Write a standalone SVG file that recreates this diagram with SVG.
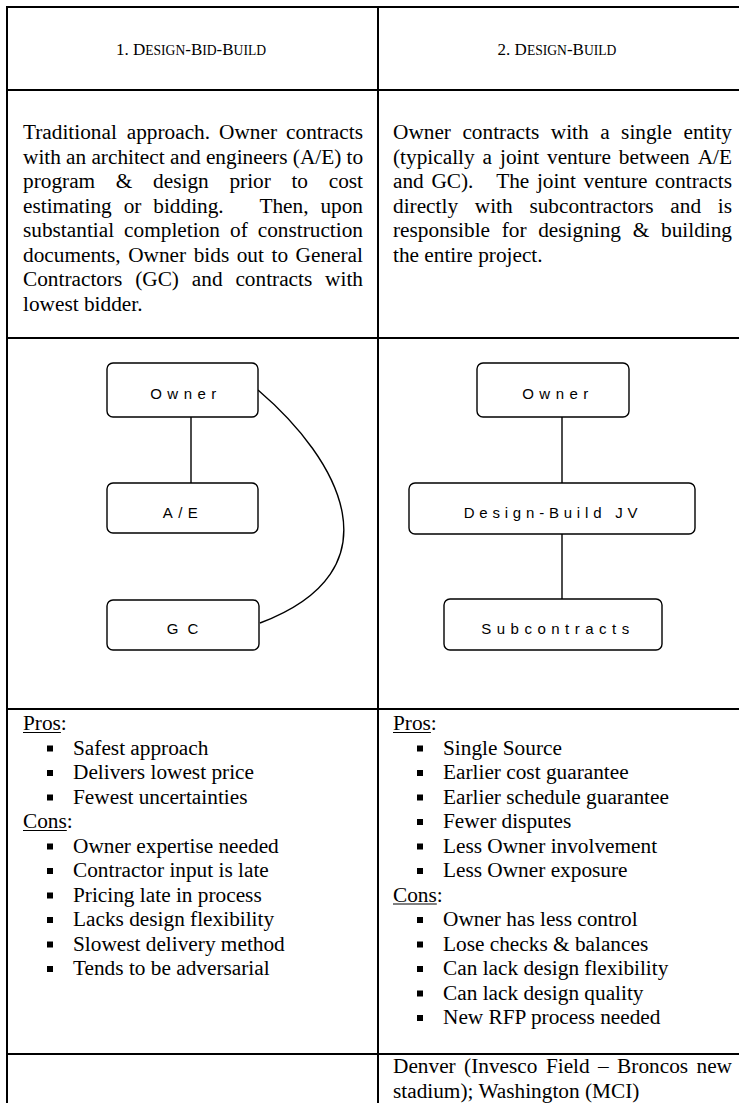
<svg xmlns="http://www.w3.org/2000/svg" width="739" height="1103" viewBox="0 0 739 1103">
<style>
.grid{stroke:#000;stroke-width:2;fill:none}
.t{font-family:"Liberation Serif","Times New Roman",serif;font-size:21.3px;fill:#000}
.h{font-family:"Liberation Serif","Times New Roman",serif;font-size:17px;fill:#000}
.sc{font-size:13.6px}
.box{fill:#fff;stroke:#000;stroke-width:1.4}
.nt{font-family:"Liberation Sans",Arial,sans-serif;font-size:15px;fill:#000;text-anchor:middle;letter-spacing:5.5px}
.conn{stroke:#000;stroke-width:1.4;fill:none}
.ul{stroke:#000;stroke-width:1}
.b{fill:#000}
</style>
<rect width="739" height="1103" fill="#fff"/>
<g id="table">
<path class="grid" d="M7,1103 V7 H739 M378,7 V1103 M7,90 H739 M7,338 H739 M7,709 H739 M7,1054 H739"/>
</g>
<g id="headers">
<text class="h" x="191" y="55" text-anchor="middle">1. D<tspan class="sc">ESIGN</tspan>-B<tspan class="sc">ID</tspan>-B<tspan class="sc">UILD</tspan></text>
<text class="h" x="557" y="55" text-anchor="middle">2. D<tspan class="sc">ESIGN</tspan>-B<tspan class="sc">UILD</tspan></text>
</g>
<g id="desc-left" class="t">
<text y="139"><tspan x="23">Traditional</tspan><tspan x="126.7">approach.</tspan><tspan x="219.1">Owner</tspan><tspan x="286.1">contracts</tspan></text>
<text y="163.5"><tspan x="23">with</tspan><tspan x="66.1">an</tspan><tspan x="91.4">architect</tspan><tspan x="170">and</tspan><tspan x="205.9">engineers</tspan><tspan x="292.8">(A/E)</tspan><tspan x="346.5">to</tspan></text>
<text y="188"><tspan x="23">program</tspan><tspan x="115.8">&amp;</tspan><tspan x="153.1">design</tspan><tspan x="229.4">prior</tspan><tspan x="291.4">to</tspan><tspan x="328.7">cost</tspan></text>
<text y="212.5"><tspan x="23">estimating</tspan><tspan x="123.7">or</tspan><tspan x="153.3">bidding.</tspan><tspan x="259.4">Then,</tspan><tspan x="320.4">upon</tspan></text>
<text y="237"><tspan x="23">substantial</tspan><tspan x="124.1">completion</tspan><tspan x="230">of</tspan><tspan x="257.7">construction</tspan></text>
<text y="261.5"><tspan x="23">documents,</tspan><tspan x="128.2">Owner</tspan><tspan x="193.7">bids</tspan><tspan x="236.7">out</tspan><tspan x="271.5">to</tspan><tspan x="295.6">General</tspan></text>
<text y="286"><tspan x="23">Contractors</tspan><tspan x="135.2">(GC)</tspan><tspan x="191.8">and</tspan><tspan x="235.4">contracts</tspan><tspan x="325.1">with</tspan></text>
<text y="310.5" x="23">lowest bidder.</text>
</g>
<g id="desc-right" class="t">
<text y="139"><tspan x="393">Owner</tspan><tspan x="462.4">contracts</tspan><tspan x="550.8">with</tspan><tspan x="600.2">a</tspan><tspan x="621.1">single</tspan><tspan x="683.5">entity</tspan></text>
<text y="163.5"><tspan x="393">(typically</tspan><tspan x="482.6">a</tspan><tspan x="500">joint</tspan><tspan x="547">venture</tspan><tspan x="618.8">between</tspan><tspan x="697.7">A/E</tspan></text>
<text y="188"><tspan x="393">and</tspan><tspan x="431.4">GC).</tspan><tspan x="496.2">The</tspan><tspan x="536.9">joint</tspan><tspan x="583.6">venture</tspan><tspan x="655.1">contracts</tspan></text>
<text y="212.5"><tspan x="393">directly</tspan><tspan x="474.8">with</tspan><tspan x="529.4">subcontractors</tspan><tspan x="670.3">and</tspan><tspan x="717.8">is</tspan></text>
<text y="237"><tspan x="393">responsible</tspan><tspan x="501.7">for</tspan><tspan x="538.2">designing</tspan><tspan x="632.7">&amp;</tspan><tspan x="661">building</tspan></text>
<text y="261.5" x="393">the entire project.</text>
</g>
<g id="connectors">
<line class="conn" x1="191" y1="417" x2="191" y2="483"/>
<path class="conn" d="M258,390 C340,460 400,570 260,623"/>
<line class="conn" x1="562" y1="417" x2="562" y2="483"/>
<line class="conn" x1="562" y1="534" x2="562" y2="599"/>
</g>
<g id="node-owner-1"><rect class="box" x="107" y="363" width="151" height="54" rx="6"/><text class="nt" x="186" y="398.5">Owner</text></g>
<g id="node-ae"><rect class="box" x="107" y="483" width="151" height="50" rx="6"/><text class="nt" x="183" y="517.5">A/E</text></g>
<g id="node-gc"><rect class="box" x="107" y="600" width="152" height="50" rx="6"/><text class="nt" x="187" y="633.5" style="letter-spacing:9px">GC</text></g>
<g id="node-owner-2"><rect class="box" x="477" y="363" width="152" height="54" rx="6"/><text class="nt" x="558" y="398.5">Owner</text></g>
<g id="node-dbjv"><rect class="box" x="409" y="483" width="286" height="51" rx="6"/><text class="nt" x="553" y="518" style="letter-spacing:4.8px">Design-Build JV</text></g>
<g id="node-sub"><rect class="box" x="444" y="599" width="218" height="51" rx="6"/><text class="nt" x="558" y="633.5">Subcontracts</text></g>
<g id="pros-left" class="t">
<text x="23" y="730">Pros:</text><line class="ul" x1="23" y1="732.5" x2="60.9" y2="732.5"/>
<rect class="b" x="47" y="745.5" width="6" height="6"/><text x="73" y="754.5">Safest approach</text>
<rect class="b" x="47" y="770" width="6" height="6"/><text x="73" y="779">Delivers lowest price</text>
<rect class="b" x="47" y="794.5" width="6" height="6"/><text x="73" y="803.5">Fewest uncertainties</text>
<text x="23" y="828">Cons:</text><line class="ul" x1="23" y1="830.5" x2="66.8" y2="830.5"/>
<rect class="b" x="47" y="843.5" width="6" height="6"/><text x="73" y="852.5">Owner expertise needed</text>
<rect class="b" x="47" y="868" width="6" height="6"/><text x="73" y="877">Contractor input is late</text>
<rect class="b" x="47" y="892.5" width="6" height="6"/><text x="73" y="901.5">Pricing late in process</text>
<rect class="b" x="47" y="917" width="6" height="6"/><text x="73" y="926">Lacks design flexibility</text>
<rect class="b" x="47" y="941.5" width="6" height="6"/><text x="73" y="950.5">Slowest delivery method</text>
<rect class="b" x="47" y="966" width="6" height="6"/><text x="73" y="975">Tends to be adversarial</text>
</g>
<g id="pros-right" class="t">
<text x="393" y="730">Pros:</text><line class="ul" x1="393" y1="732.5" x2="430.9" y2="732.5"/>
<rect class="b" x="417" y="745.5" width="6" height="6"/><text x="443" y="754.5">Single Source</text>
<rect class="b" x="417" y="770" width="6" height="6"/><text x="443" y="779">Earlier cost guarantee</text>
<rect class="b" x="417" y="794.5" width="6" height="6"/><text x="443" y="803.5">Earlier schedule guarantee</text>
<rect class="b" x="417" y="819" width="6" height="6"/><text x="443" y="828">Fewer disputes</text>
<rect class="b" x="417" y="843.5" width="6" height="6"/><text x="443" y="852.5">Less Owner involvement</text>
<rect class="b" x="417" y="868" width="6" height="6"/><text x="443" y="877">Less Owner exposure</text>
<text x="393" y="901.5">Cons:</text><line class="ul" x1="393" y1="904" x2="436.8" y2="904"/>
<rect class="b" x="417" y="917" width="6" height="6"/><text x="443" y="926">Owner has less control</text>
<rect class="b" x="417" y="941.5" width="6" height="6"/><text x="443" y="950.5">Lose checks &amp; balances</text>
<rect class="b" x="417" y="966" width="6" height="6"/><text x="443" y="975">Can lack design flexibility</text>
<rect class="b" x="417" y="990.5" width="6" height="6"/><text x="443" y="999.5">Can lack design quality</text>
<rect class="b" x="417" y="1015" width="6" height="6"/><text x="443" y="1024">New RFP process needed</text>
</g>
<g id="examples" class="t">
<text y="1073"><tspan x="393">Denver</tspan><tspan x="464.1">(Invesco</tspan><tspan x="545.9">Field</tspan><tspan x="598.1">–</tspan><tspan x="617.1">Broncos</tspan><tspan x="696.5">new</tspan></text>
<text x="393" y="1097.5">stadium); Washington (MCI)</text>
</g>
</svg>
